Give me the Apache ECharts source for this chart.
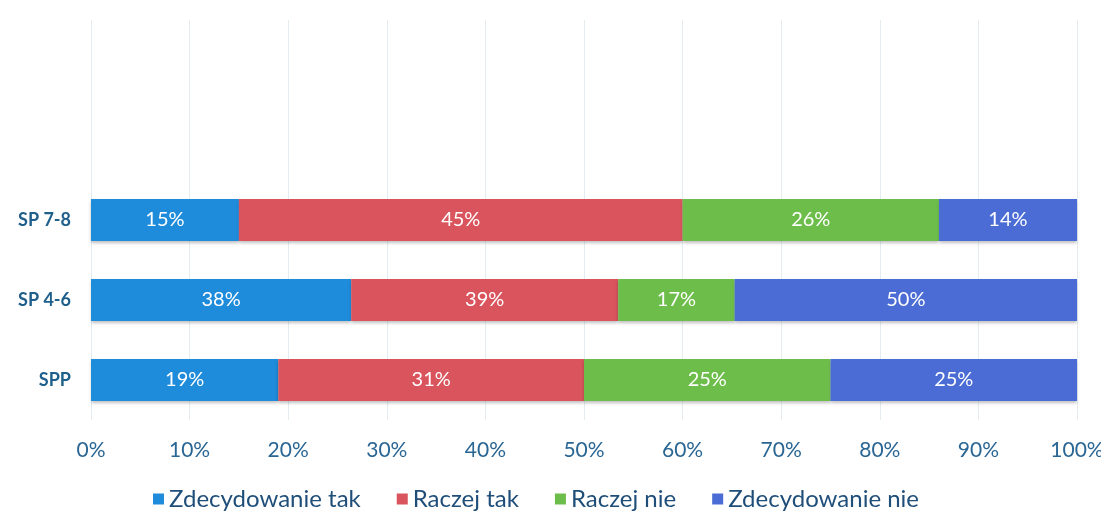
<!DOCTYPE html>
<html>
<head>
<meta charset="utf-8">
<script src="https://cdn.jsdelivr.net/npm/echarts@6/dist/echarts.min.js"></script>
<style>
  html, body { margin: 0; padding: 0; background: #fff; }
  #chart { width: 1101px; height: 524px; }
</style>
</head>
<body>
<div id="chart"></div>
<script>
// categories bottom to top; two empty slots above as in the original plot area
const categories = ['SPP', 'SP 4-6', 'SP 7-8', '', '']
const seriesNames = ['Zdecydowanie tak', 'Raczej tak', 'Raczej nie', 'Zdecydowanie nie']
const zdecydowanieTak = [19, 38, 15]
const raczejTak = [31, 39, 45]
const raczejNie = [25, 17, 26]
const zdecydowanieNie = [25, 50, 14]
const xTicks = [0, 10, 20, 30, 40, 50, 60, 70, 80, 90, 100]

const palette = ['#1e8bdb', '#d9545c', '#6dbd4b', '#4a6cd4']
const raw = [zdecydowanieTak, raczejTak, raczejNie, zdecydowanieNie]
// 100% stacked: each bar is scaled to its row total, labels keep the raw numbers
const totals = zdecydowanieTak.map((_, i) => raw.reduce((s, arr) => s + arr[i], 0))

const chart = echarts.init(document.getElementById('chart'))
chart.setOption({
  animation: false,
  color: palette,
  textStyle: { fontFamily: 'Lato, "Open Sans", sans-serif' },
  grid: { left: 91, right: 24, top: 20, bottom: 104, containLabel: false, outerBoundsMode: 'none' },
  legend: {
    bottom: 8,
    left: 148,
    icon: 'rect',
    itemWidth: 11,
    itemHeight: 11,
    itemGap: 36,
    textStyle: { color: '#1f4e79', fontSize: 24 },
    data: seriesNames
  },
  xAxis: {
    type: 'value',
    min: xTicks[0],
    max: xTicks[xTicks.length - 1],
    interval: 10,
    axisLine: { show: false },
    axisTick: { show: false },
    splitLine: { lineStyle: { color: '#e3edf1', width: 1 } },
    axisLabel: { color: '#2a6694', fontSize: 21, margin: 20, formatter: '{value}%' }
  },
  yAxis: {
    type: 'category',
    data: categories,
    axisLine: { show: false },
    axisTick: { show: false },
    axisLabel: { color: '#1f5f8b', fontSize: 18, fontWeight: 'bold', margin: 20 }
  },
  series: seriesNames.map((name, k) => ({
    name,
    type: 'bar',
    stack: 'total',
    barWidth: 42,
    data: raw[k].map((v, i) => ({ value: v / totals[i] * 100, raw: v })),
    itemStyle: { shadowBlur: 3, shadowColor: 'rgba(0,0,0,0.25)', shadowOffsetY: 2 },
    label: {
      show: true,
      position: 'inside',
      color: '#fff',
      fontSize: 20,
      formatter: p => p.data.raw + '%'
    }
  }))
})
</script>
</body>
</html>
